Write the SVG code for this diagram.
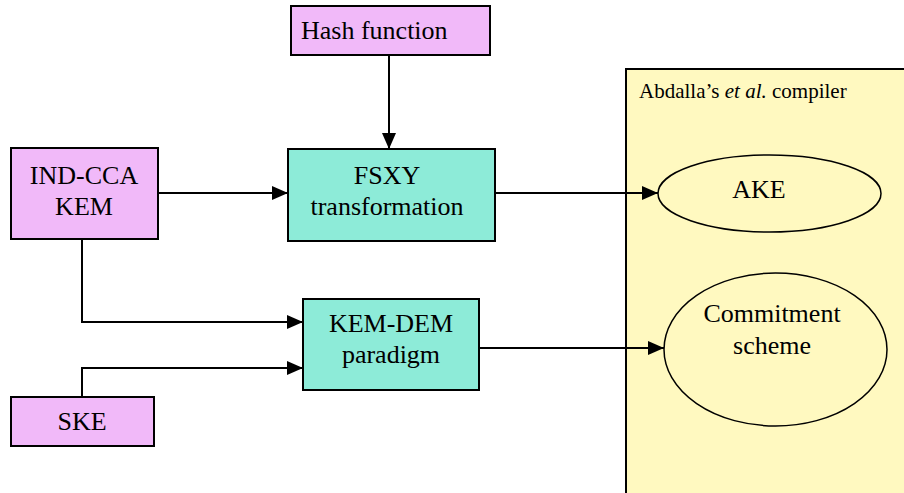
<svg xmlns="http://www.w3.org/2000/svg" width="904" height="493" viewBox="0 0 904 493">
<defs>
<marker id="ah" markerWidth="16" markerHeight="14" refX="16" refY="7" orient="auto" markerUnits="userSpaceOnUse">
<path d="M0,0 L16,7 L0,14 Z" fill="#000"/>
</marker>
<style>
.pink{fill:#f1b9f9;stroke:#000;stroke-width:2}
.teal{fill:#8debd8;stroke:#000;stroke-width:2}
.ell{fill:#fff9c0;stroke:#000;stroke-width:1.5}
.t{font-size:26px;fill:#000}
.c{text-anchor:middle}
.e{fill:none;stroke:#000;stroke-width:2;marker-end:url(#ah)}
</style>
</defs>
<rect width="904" height="493" fill="#fff"/>
<g id="compiler">
<rect x="627" y="70" width="280" height="424" fill="#fff9c0"/>
<path d="M626,493 V69 H906" fill="none" stroke="#000" stroke-width="2"/>
<text x="639" y="98" font-family="Liberation Serif, Times New Roman, serif" font-size="21">Abdalla’s <tspan font-style="italic">et al.</tspan> compiler</text>
</g>
<g font-family="Liberation Serif, Times New Roman, serif">
<g id="hash">
<rect class="pink" x="291" y="6" width="199" height="49"/>
<text class="t" x="301" y="39">Hash function</text>
</g>
<g id="indcca">
<rect class="pink" x="11" y="148" width="147" height="91"/>
<text class="t c" x="84" y="184">IND-CCA</text>
<text class="t c" x="84" y="215">KEM</text>
</g>
<g id="ske">
<rect class="pink" x="11" y="397" width="143" height="49"/>
<text class="t c" x="82" y="430">SKE</text>
</g>
<g id="fsxy">
<rect class="teal" x="288" y="149" width="207" height="92"/>
<text class="t c" x="387" y="184">FSXY</text>
<text class="t c" x="387" y="215">transformation</text>
</g>
<g id="kemdem">
<rect class="teal" x="303" y="299" width="176" height="91"/>
<text class="t c" x="391" y="332">KEM-DEM</text>
<text class="t c" x="391" y="363">paradigm</text>
</g>
<g id="ake">
<ellipse class="ell" cx="769.5" cy="193.5" rx="111.5" ry="38.5"/>
<text class="t c" x="759" y="198">AKE</text>
</g>
<g id="commitment">
<ellipse class="ell" cx="775.5" cy="349.5" rx="111.5" ry="76.5"/>
<text class="t c" x="772" y="322">Commitment</text>
<text class="t c" x="772" y="354">scheme</text>
</g>
</g>
<g id="connectors">
<path class="e" d="M389,55 V149"/>
<path class="e" d="M158,193 H288"/>
<path class="e" d="M495,193 H658"/>
<path class="e" d="M82,239 V322 H303"/>
<path class="e" d="M82,397 V368 H303"/>
<path class="e" d="M479,348 H664"/>
</g>
</svg>
